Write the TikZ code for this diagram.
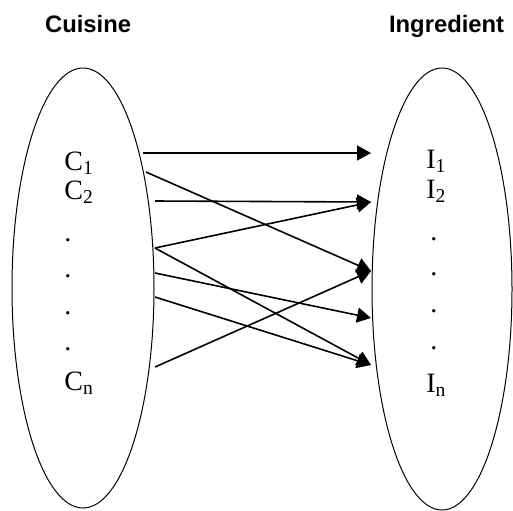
\documentclass[tikz,border=0pt]{standalone}
\usepackage{fontspec}
\setmainfont{Liberation Serif}
\newfontfamily\headfont{Liberation Sans}
\usetikzlibrary{arrows.meta}
\tikzset{>={Triangle[length=7pt,width=7.5pt]}}

\begin{document}
\begin{tikzpicture}[x=0.5pt,y=-0.5pt,
  set/.style={draw, line width=0.5pt},
  head/.style={anchor=base west, font=\headfont\fontsize{11.9}{14}\selectfont\bfseries},
  elem/.style={anchor=base west, inner sep=0pt, font=\fontsize{14}{16}\selectfont},
  map/.style={->, line width=0.8pt}]
\useasboundingbox (0,0) rectangle (513,510);
% the two sets
\draw[set] (83,288) ellipse [x radius=71, y radius=220];
\draw[set] (442,289) ellipse [x radius=70, y radius=221];
\node[head] (cuis) at (38,32) {Cuisine};
\node[head] (ingr) at (382,32) {Ingredient};
% cuisines
\node[elem] (c1) at (64,170) {C\textsubscript{1}};
\node[elem] (c2) at (64,199) {C\textsubscript{2}};
\node[elem] (cd1) at (64,241) {.};
\node[elem] (cd2) at (64,277) {.};
\node[elem] (cd3) at (64,314) {.};
\node[elem] (cd4) at (64,350) {.};
\node[elem] (cn) at (64,390) {C\textsubscript{n}};
% ingredients
\node[elem] (i1) at (426,168) {I\textsubscript{1}};
\node[elem] (i2) at (426,198) {I\textsubscript{2}};
\node[elem] (id1) at (430,240) {.};
\node[elem] (id2) at (430,275) {.};
\node[elem] (id3) at (430,312) {.};
\node[elem] (id4) at (430,349) {.};
\node[elem] (in) at (426,392) {I\textsubscript{n}};
% arrow ends
\coordinate (a1) at (143,153);
\coordinate (a2) at (146,172);
\coordinate (a3) at (155,201);
\coordinate (a4) at (155,248);
\coordinate (a5) at (155,273);
\coordinate (a6) at (155,297);
\coordinate (a7) at (155,367);
\coordinate (b1) at (371,153);
\coordinate (b2) at (371,202);
\coordinate (b3) at (371,271);
\coordinate (b4) at (371,318);
\coordinate (b5) at (371,365);
\draw[map] (a1) -- (b1); \draw[map] (a2) -- (b3); \draw[map] (a3) -- (b2);
\draw[map] (a4) -- (b2); \draw[map] (a4) -- (b5); \draw[map] (a5) -- (b4);
\draw[map] (a6) -- (b5); \draw[map] (a7) -- (b3);
\end{tikzpicture}
\end{document}
